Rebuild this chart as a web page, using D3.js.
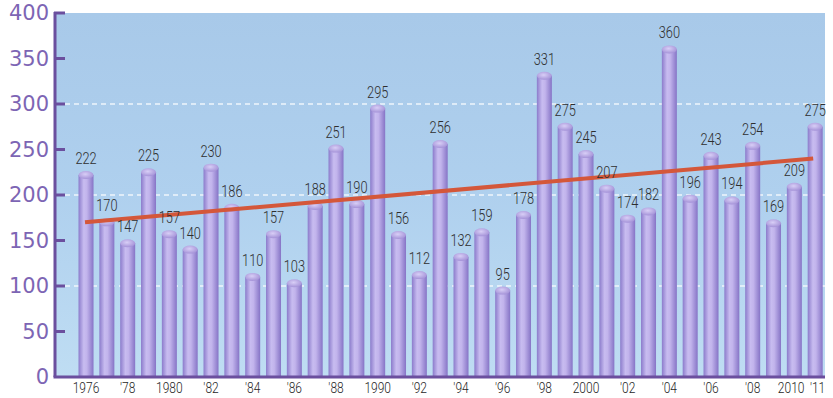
<!DOCTYPE html>
<html>
<head>
<meta charset="utf-8">
<script src="https://cdn.jsdelivr.net/npm/d3@7"></script>
<style>
  body { margin: 0; background: #fff; }
  svg { display: block; }
</style>
</head>
<body>
<svg id="chart" width="833" height="398"></svg>
<script>
// years on the x axis
const years = [1976, 1977, 1978, 1979, 1980, 1981, 1982, 1983, 1984, 1985, 1986, 1987,
  1988, 1989, 1990, 1991, 1992, 1993, 1994, 1995, 1996, 1997, 1998, 1999,
  2000, 2001, 2002, 2003, 2004, 2005, 2006, 2007, 2008, 2009, 2010, 2011];
// counts per year
const counts = [222, 170, 147, 225, 157, 140, 230, 186, 110, 157, 103, 188,
  251, 190, 295, 156, 112, 256, 132, 159, 95, 178, 331, 275,
  245, 207, 174, 182, 360, 196, 243, 194, 254, 169, 209, 275];
// labels shown under the bars
const xTickLabels = {1976: "1976", 1978: "'78", 1980: "1980", 1982: "'82", 1984: "'84",
  1986: "'86", 1988: "'88", 1990: "1990", 1992: "'92", 1994: "'94", 1996: "'96",
  1998: "'98", 2000: "2000", 2002: "'02", 2004: "'04", 2006: "'06", 2008: "'08",
  2010: "2010", 2011: "'11"};
const yTicks = [0, 50, 100, 150, 200, 250, 300, 350, 400];
const gridValues = [100, 200, 300];
// trend line end values
const trendStart = 170;
const trendEnd = 240;

const svg = d3.select("#chart");
const plotLeft = 55, plotRight = 825, plotTop = 13, plotBottom = 377;
const narrowFont = "Roboto, 'Liberation Sans', sans-serif";
const squeeze = "scale(0.8,1)";

const x = d3.scaleBand()
  .domain(years)
  .range([75.6, 825.6])
  .paddingInner(0.28)
  .paddingOuter(0.14);

const y = d3.scaleLinear()
  .domain([0, 400])
  .range([plotBottom, plotTop]);

const defs = svg.append("defs");

// sky background
const sky = defs.append("linearGradient").attr("id", "sky")
  .attr("x1", 0).attr("y1", 0).attr("x2", 0).attr("y2", 1);
sky.append("stop").attr("offset", "0%").attr("stop-color", "#a8c9e9");
sky.append("stop").attr("offset", "50%").attr("stop-color", "#afd0ee");
sky.append("stop").attr("offset", "100%").attr("stop-color", "#bfddf3");

// cylinder shading
const cyl = defs.append("linearGradient").attr("id", "cyl")
  .attr("x1", 0).attr("y1", 0).attr("x2", 1).attr("y2", 0);
cyl.append("stop").attr("offset", "0%").attr("stop-color", "#8b7bcb");
cyl.append("stop").attr("offset", "35%").attr("stop-color", "#c8bcf0");
cyl.append("stop").attr("offset", "55%").attr("stop-color", "#c2b4ec");
cyl.append("stop").attr("offset", "100%").attr("stop-color", "#8674c6");

const cap = defs.append("radialGradient").attr("id", "cap")
  .attr("cx", "45%").attr("cy", "40%").attr("r", "60%");
cap.append("stop").attr("offset", "0%").attr("stop-color", "#d8cef6");
cap.append("stop").attr("offset", "100%").attr("stop-color", "#a593d8");

svg.append("rect")
  .attr("x", plotLeft).attr("y", plotTop)
  .attr("width", plotRight - plotLeft).attr("height", plotBottom - plotTop)
  .attr("fill", "url(#sky)");

// dashed grid lines
svg.selectAll("line.grid")
  .data(gridValues)
  .enter()
  .append("line")
  .attr("class", "grid")
  .attr("x1", plotLeft + 10).attr("x2", plotRight)
  .attr("y1", d => y(d)).attr("y2", d => y(d))
  .attr("stroke", "#ffffff")
  .attr("stroke-width", 1.5)
  .attr("stroke-dasharray", "5,4")
  .attr("opacity", 0.8);

const bw = x.bandwidth();
const capH = 4;

// bars
svg.selectAll("rect.bar")
  .data(counts)
  .enter()
  .append("rect")
  .attr("class", "bar")
  .attr("x", (d, i) => x(years[i]))
  .attr("y", d => y(d))
  .attr("width", bw)
  .attr("height", d => plotBottom - y(d))
  .attr("fill", "url(#cyl)");

svg.selectAll("ellipse.cap")
  .data(counts)
  .enter()
  .append("ellipse")
  .attr("class", "cap")
  .attr("cx", (d, i) => x(years[i]) + bw / 2)
  .attr("cy", d => y(d))
  .attr("rx", bw / 2)
  .attr("ry", capH)
  .attr("fill", "url(#cap)");

// trend line
svg.append("line")
  .attr("x1", x(years[0]) + bw / 2 - 1)
  .attr("x2", x(years[years.length - 1]) + bw / 2 - 2)
  .attr("y1", y(trendStart))
  .attr("y2", y(trendEnd))
  .attr("stroke", "#d4573a")
  .attr("stroke-width", 4);

// value labels
svg.selectAll("g.val")
  .data(counts)
  .enter()
  .append("g")
  .attr("class", "val")
  .attr("transform", (d, i) => "translate(" + (x(years[i]) + bw / 2) + "," + (y(d) - capH - 7) + ")")
  .append("text")
  .attr("transform", squeeze)
  .attr("text-anchor", "middle")
  .style("font-family", narrowFont)
  .style("font-weight", 300)
  .style("font-size", "16px")
  .attr("fill", "#2e2e2e")
  .text(d => d);

// axes
const yAxis = d3.axisLeft(y).tickValues(yTicks).tickSize(0).tickPadding(6);
const gy = svg.append("g").attr("transform", "translate(" + plotLeft + ",0)").call(yAxis);
gy.select(".domain").remove();
gy.selectAll("text")
  .style("font-family", "'DejaVu Sans', sans-serif")
  .style("font-size", "21px")
  .attr("fill", "#7d65b4");

svg.selectAll("line.ytick")
  .data(yTicks.slice(1))
  .enter()
  .append("line")
  .attr("class", "ytick")
  .attr("x1", plotLeft - 1).attr("x2", plotLeft + 10)
  .attr("y1", d => y(d)).attr("y2", d => y(d))
  .attr("stroke", "#6b4f9e")
  .attr("stroke-width", 3);

svg.append("line")
  .attr("x1", plotLeft).attr("x2", plotLeft)
  .attr("y1", plotTop - 1).attr("y2", plotBottom)
  .attr("stroke", "#6b4f9e").attr("stroke-width", 3);
svg.append("line")
  .attr("x1", plotLeft - 1.5).attr("x2", plotRight)
  .attr("y1", plotBottom).attr("y2", plotBottom)
  .attr("stroke", "#6b4f9e").attr("stroke-width", 3);

const xAxis = d3.axisBottom(x)
  .tickValues(years.filter(d => xTickLabels[d]))
  .tickFormat(d => xTickLabels[d])
  .tickSize(0).tickPadding(5);
const gx = svg.append("g").attr("transform", "translate(0," + plotBottom + ")").call(xAxis);
gx.select(".domain").remove();
gx.selectAll("text")
  .attr("transform", squeeze)
  .style("font-family", narrowFont)
  .style("font-weight", 300)
  .style("font-size", "15px")
  .attr("fill", "#1e1e1e");
// the last two labels are spread apart a little, as in the reference
gx.selectAll(".tick").filter(d => d === 2010)
  .select("text").attr("x", -4);
gx.selectAll(".tick").filter(d => d === 2011)
  .select("text").attr("x", 3);
</script>
</body>
</html>
